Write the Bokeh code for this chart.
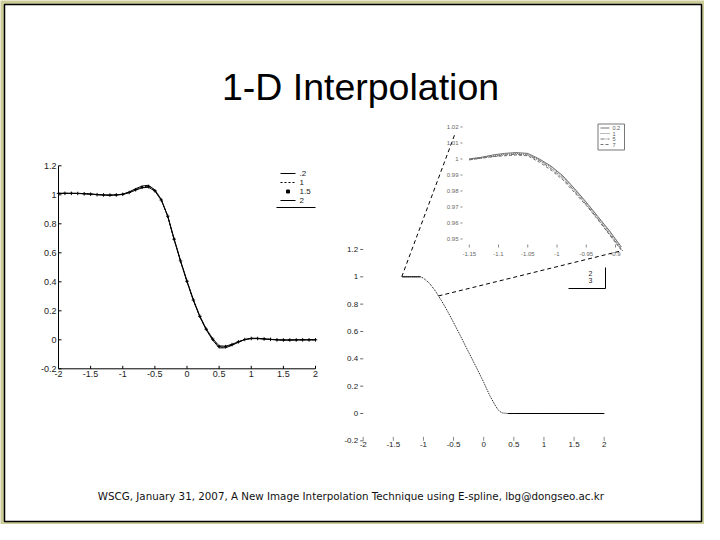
import math
from bokeh.plotting import figure
from bokeh.models import Range1d
from bokeh.embed import file_html
from bokeh.resources import INLINE
from bokeh.core.properties import value

TITLE = "1-D Interpolation"
FOOTER = "WSCG, January 31, 2007, A New  Image Interpolation Technique using E-spline, lbg@dongseo.ac.kr"

# ---------------- left panel data ----------------
left_x = [-2.0, -1.9, -1.8, -1.7, -1.6, -1.5, -1.4, -1.3, -1.2, -1.1, -1.0,
          -0.9, -0.8, -0.7, -0.6, -0.5, -0.4, -0.3, -0.2, -0.1, 0.0,
          0.1, 0.2, 0.3, 0.4, 0.5, 0.6, 0.7, 0.8, 0.9, 1.0,
          1.1, 1.2, 1.3, 1.4, 1.5, 1.6, 1.7, 1.8, 1.9, 2.0]
left_y_02 = [1.010, 1.010, 1.010, 1.010, 1.008, 1.006, 1.002, 0.998, 0.997, 0.999, 1.005,
             1.020, 1.042, 1.060, 1.066, 1.034, 0.968, 0.852, 0.690, 0.540, 0.400,
             0.270, 0.158, 0.068, -0.002, -0.056, -0.055, -0.038, -0.017, 0.002, 0.011,
             0.010, 0.007, 0.003, 0.000, -0.002, -0.002, -0.001, 0.000, 0.000, 0.000]
left_y_1 = [1.010, 1.010, 1.010, 1.010, 1.008, 1.005, 1.001, 0.998, 0.997, 0.999, 1.004,
            1.018, 1.038, 1.055, 1.060, 1.030, 0.966, 0.852, 0.692, 0.542, 0.402,
            0.272, 0.160, 0.070, 0.002, -0.050, -0.050, -0.035, -0.015, 0.002, 0.010,
            0.010, 0.006, 0.003, 0.000, -0.001, -0.002, -0.001, 0.000, 0.000, 0.000]
left_y_15 = [1.010, 1.010, 1.010, 1.009, 1.007, 1.004, 1.001, 0.999, 0.998, 0.999, 1.003,
             1.016, 1.035, 1.051, 1.056, 1.028, 0.964, 0.853, 0.694, 0.544, 0.404,
             0.274, 0.162, 0.073, 0.005, -0.046, -0.047, -0.033, -0.014, 0.002, 0.009,
             0.009, 0.006, 0.003, 0.000, -0.001, -0.001, -0.001, 0.000, 0.000, 0.000]
left_y_2 = [1.010, 1.010, 1.010, 1.009, 1.007, 1.004, 1.001, 0.999, 0.998, 0.999, 1.002,
            1.014, 1.032, 1.048, 1.052, 1.026, 0.962, 0.854, 0.696, 0.546, 0.406,
            0.276, 0.164, 0.075, 0.008, -0.042, -0.044, -0.031, -0.013, 0.002, 0.008,
            0.008, 0.005, 0.002, 0.000, -0.001, -0.001, 0.000, 0.000, 0.000, 0.000]
left_labels = [".2", "1", "1.5", "2"]

x_ticks = [-2, -1.5, -1, -0.5, 0, 0.5, 1, 1.5, 2]
x_tick_labels = ["-2", "-1.5", "-1", "-0.5", "0", "0.5", "1", "1.5", "2"]
y_ticks = [-0.2, 0, 0.2, 0.4, 0.6, 0.8, 1, 1.2]
y_tick_labels = ["-0.2", "0", "0.2", "0.4", "0.6", "0.8", "1", "1.2"]

# ---------------- right panel data ----------------
right_x = [-1.35, -1.2, -1.1, -1.05, -1.0, -0.9, -0.8, -0.7, -0.6, -0.5, -0.4, -0.3,
           -0.2, -0.1, 0.0, 0.1, 0.2, 0.25, 0.3, 0.4, 0.5, 1.0, 1.5, 2.0]
right_y = [1.0, 1.0, 1.0, 1.0, 0.99, 0.953, 0.895, 0.825, 0.748, 0.665, 0.58, 0.492,
           0.405, 0.318, 0.228, 0.132, 0.052, 0.022, 0.005, 0.0, 0.0, 0.0, 0.0, 0.0]
right_labels = ["2", "3"]
zoom_src_x = [-1.36, -0.75]
zoom_src_y = [1.0, 0.86]

# ---------------- inset (zoom) data ----------------
inset_x = [-1.15, -1.13, -1.11, -1.09, -1.07, -1.05, -1.03, -1.01, -0.99, -0.97,
           -0.95, -0.93, -0.91, -0.89]
inset_y_a = [1.000, 1.001, 1.0025, 1.0035, 1.004, 1.0035, 1.000, 0.9955, 0.9895, 0.9815,
             0.973, 0.964, 0.955, 0.945]
inset_y_b = [1.000, 1.001, 1.002, 1.003, 1.0035, 1.003, 0.9995, 0.995, 0.989, 0.981,
             0.9725, 0.9635, 0.954, 0.944]
inset_y_c = [0.9995, 1.0005, 1.0015, 1.0025, 1.003, 1.0025, 0.999, 0.994, 0.988, 0.980,
             0.9715, 0.9625, 0.953, 0.9435]
inset_y_d = [0.9995, 1.0005, 1.0015, 1.002, 1.0025, 1.002, 0.998, 0.993, 0.987, 0.979,
             0.971, 0.962, 0.9525, 0.943]
inset_labels = ["0.2", "1", "5", "7"]
inset_x_ticks = [-1.15, -1.1, -1.05, -1, -0.95, -0.9]
inset_x_tick_labels = ["-1.15", "-1.1", "-1.05", "-1", "-0.95", "-0.9"]
inset_y_ticks = [0.95, 0.96, 0.97, 0.98, 0.99, 1.0, 1.01, 1.02]
inset_y_tick_labels = ["0.95", "0.96", "0.97", "0.98", "0.99", "1", "1.01", "1.02"]
inset_xlim = [-1.1735, -0.888]
inset_ylim = [0.9428, 1.0166]

# ---------------- layout (slide pixel geometry) ----------------
X0, X1, Y0, Y1 = 8, 712, 8, 532   # canvas in slide pixels


class Map:
    def __init__(self, d0, p0, d1, p1):
        self.d0, self.p0 = d0, p0
        self.k = (p1 - p0) / (d1 - d0)

    def px(self, d):
        return self.p0 + (d - self.d0) * self.k

    def inv(self, p):
        return self.d0 + (p - self.p0) / self.k

    def rng(self, a, b):
        return Range1d(start=self.inv(a), end=self.inv(b))


LX = Map(-2, 66, 2, 323)
LY = Map(0, 347.3, 1, 202.3)
RX = Map(-2, 370.7, 2, 611.7)
RY = Map(0, 421, 1, 284.3)
IX = Map(-1, 564.5, 0, 564.5 + 585)
IY = Map(1, 166.5, 2, 166.5 - 1600)

p = figure(width=704, height=524, output_backend="svg", toolbar_location=None,
           x_range=Range1d(X0, X1), y_range=Range1d(Y1, Y0),
           x_axis_type=None, y_axis_type=None, min_border=0)
p.outline_line_color = None
p.background_fill_color = "#cccc99"
p.border_fill_color = "#cccc99"
p.extra_x_ranges = {"L": LX.rng(X0, X1), "R": RX.rng(X0, X1), "I": IX.rng(X0, X1)}
p.extra_y_ranges = {"L": LY.rng(Y1, Y0), "R": RY.rng(Y1, Y0), "I": IY.rng(Y1, Y0)}

FONT = value("Liberation Sans")

# slide frame
p.quad(left=12, right=709, top=12, bottom=529, fill_color="white",
       line_color="black", line_width=1.5)

# title and footer
p.text(x=[368], y=[94], text=[TITLE], text_font=FONT, text_font_size="37.5px",
       text_align="center", text_baseline="middle", text_color="black")
p.text(x=[360], y=[503], text=[FOOTER], text_font=value("DejaVu Sans"),
       text_font_size="10.3px", text_align="center", text_baseline="middle",
       text_color="#111111")

# ---------------- left panel ----------------
L = dict(x_range_name="L", y_range_name="L")
xmin, xmax = x_ticks[0], x_ticks[-1]
ymin, ymax = y_ticks[0], y_ticks[-1]
p.line([xmin, xmin], [ymin, ymax], line_color="black", line_width=1, **L)
p.line([xmin, xmax], [ymin, ymin], line_color="black", line_width=1, **L)
tl = 3
p.segment(x0=x_ticks, y0=[ymin] * len(x_ticks), x1=x_ticks,
          y1=[ymin + tl / abs(LY.k)] * len(x_ticks), line_color="black", **L)
p.segment(x0=[xmin] * len(y_ticks), y0=y_ticks, x1=[xmin + tl / LX.k] * len(y_ticks),
          y1=y_ticks, line_color="black", **L)
p.text(x=x_ticks, y=[ymin] * len(x_ticks), text=x_tick_labels, text_font=FONT,
       text_font_size="9px", text_align="center", text_baseline="top",
       y_offset=2, text_color="#222222", **L)
p.text(x=[xmin] * len(y_ticks), y=y_ticks, text=y_tick_labels, text_font=FONT,
       text_font_size="9px", text_align="right", text_baseline="middle",
       x_offset=-2, text_color="#222222", **L)

p.line(left_x, left_y_02, line_color="black", line_width=1, **L)
p.line(left_x, left_y_1, line_color="black", line_width=1, line_dash="2 2", **L)
p.scatter(left_x, left_y_15, marker="cross", size=3.5, line_color="black", **L)
p.line(left_x, left_y_2, line_color="black", line_width=1, **L)

# left legend (slide pixels)
leg_y = [181, 190, 199, 208]
p.line([288, 303], [leg_y[0]] * 2, line_color="black", line_width=1)
p.line([288, 303], [leg_y[1]] * 2, line_color="black", line_width=1, line_dash="2 2")
p.scatter([295.5], [leg_y[2]], marker="square", size=3, fill_color="black",
          line_color="black")
p.line([288, 303], [leg_y[3]] * 2, line_color="black", line_width=1)
p.text(x=[307] * 4, y=leg_y, text=left_labels, text_font=FONT, text_font_size="8px",
       text_align="left", text_baseline="middle", text_color="#222222")
p.line([284, 323], [215, 215], line_color="black", line_width=1)

# ---------------- right panel ----------------
R = dict(x_range_name="R", y_range_name="R")
p.segment(x0=x_ticks, y0=[ymin] * len(x_ticks), x1=x_ticks,
          y1=[ymin + 4 / abs(RY.k)] * len(x_ticks), line_color="#888888", **R)
p.segment(x0=[xmin - 3 / RX.k] * len(y_ticks), y0=y_ticks, x1=[xmin] * len(y_ticks),
          y1=y_ticks, line_color="#666666", **R)
p.text(x=x_ticks, y=[ymin] * len(x_ticks), text=x_tick_labels, text_font=FONT,
       text_font_size="8px", text_align="center", text_baseline="middle",
       y_offset=4, text_color="#222222", **R)
p.text(x=[xmin] * len(y_ticks), y=y_ticks, text=y_tick_labels, text_font=FONT,
       text_font_size="8px", text_align="right", text_baseline="middle",
       x_offset=-5, text_color="#222222", **R)

p.line(right_x, right_y, line_color="black", line_width=1, line_dash="1 1", **R)
p.line(right_x[:4], right_y[:4], line_color="black", line_width=1, **R)
p.line(right_x[19:], right_y[19:], line_color="black", line_width=1, **R)

# zoom connectors: from the zoomed region to the inset corners
corner_px = [IX.px(inset_xlim[0]), IX.px(inset_xlim[1])]
corner_py = [IY.px(inset_ylim[1]), IY.px(inset_ylim[0])]
p.segment(x0=zoom_src_x, y0=zoom_src_y,
          x1=[RX.inv(v) for v in corner_px], y1=[RY.inv(v) for v in corner_py],
          line_color="black", line_width=1, line_dash="4 3", **R)

# right partial legend box (slide pixels)
p.line([576, 613, 613], [296, 296, 275], line_color="black", line_width=1)
p.text(x=[598, 598], y=[281, 288], text=right_labels, text_font=FONT,
       text_font_size="7px", text_align="center", text_baseline="middle",
       text_color="#222222")

# ---------------- inset ----------------
I = dict(x_range_name="I", y_range_name="I")
p.line(inset_x, inset_y_a, line_color="#6f6f6f", line_width=1, **I)
p.line(inset_x, inset_y_b, line_color="#6f6f6f", line_width=1, line_dash="1 1", **I)
p.line(inset_x, inset_y_c, line_color="#6f6f6f", line_width=1, line_dash="4 1 1 1", **I)
p.line(inset_x, inset_y_d, line_color="#6f6f6f", line_width=1, line_dash="3 2", **I)
p.text(x=[inset_xlim[0]] * len(inset_y_ticks), y=inset_y_ticks, text=inset_y_tick_labels,
       text_font=FONT, text_font_size="6px", text_align="right", text_baseline="middle",
       x_offset=3, text_color="#666666", **I)
p.segment(x0=[inset_xlim[0] + 5 / IX.k] * len(inset_y_ticks), y0=inset_y_ticks,
          x1=[inset_xlim[0] + 7 / IX.k] * len(inset_y_ticks), y1=inset_y_ticks,
          line_color="#888888", **I)
p.text(x=inset_x_ticks, y=[inset_ylim[0]] * len(inset_x_ticks), text=inset_x_tick_labels,
       text_font=FONT, text_font_size="6px", text_align="center", text_baseline="middle",
       y_offset=3, text_color="#666666", **I)
p.segment(x0=inset_x_ticks, y0=[inset_ylim[0] + 3 / abs(IY.k)] * len(inset_x_ticks),
          x1=inset_x_ticks, y1=[inset_ylim[0] + 6 / abs(IY.k)] * len(inset_x_ticks),
          line_color="#888888", **I)

# inset legend (slide pixels)
p.quad(left=[605.5], right=[632], top=[131.5], bottom=[157.5], fill_color="white",
       line_color="#777777", line_width=1)
il_y = [135.5, 141, 146.5, 152]
dashes = ["solid", "1 1", "4 1 1 1", "3 2"]
for yy, dd in zip(il_y, dashes):
    p.line([608, 617], [yy, yy], line_color="#777777", line_width=1, line_dash=dd)
p.text(x=[620] * 4, y=il_y, text=inset_labels, text_font=FONT, text_font_size="5.5px",
       text_align="left", text_baseline="middle", text_color="#555555")

open("out.html", "w").write(file_html(p, INLINE))
